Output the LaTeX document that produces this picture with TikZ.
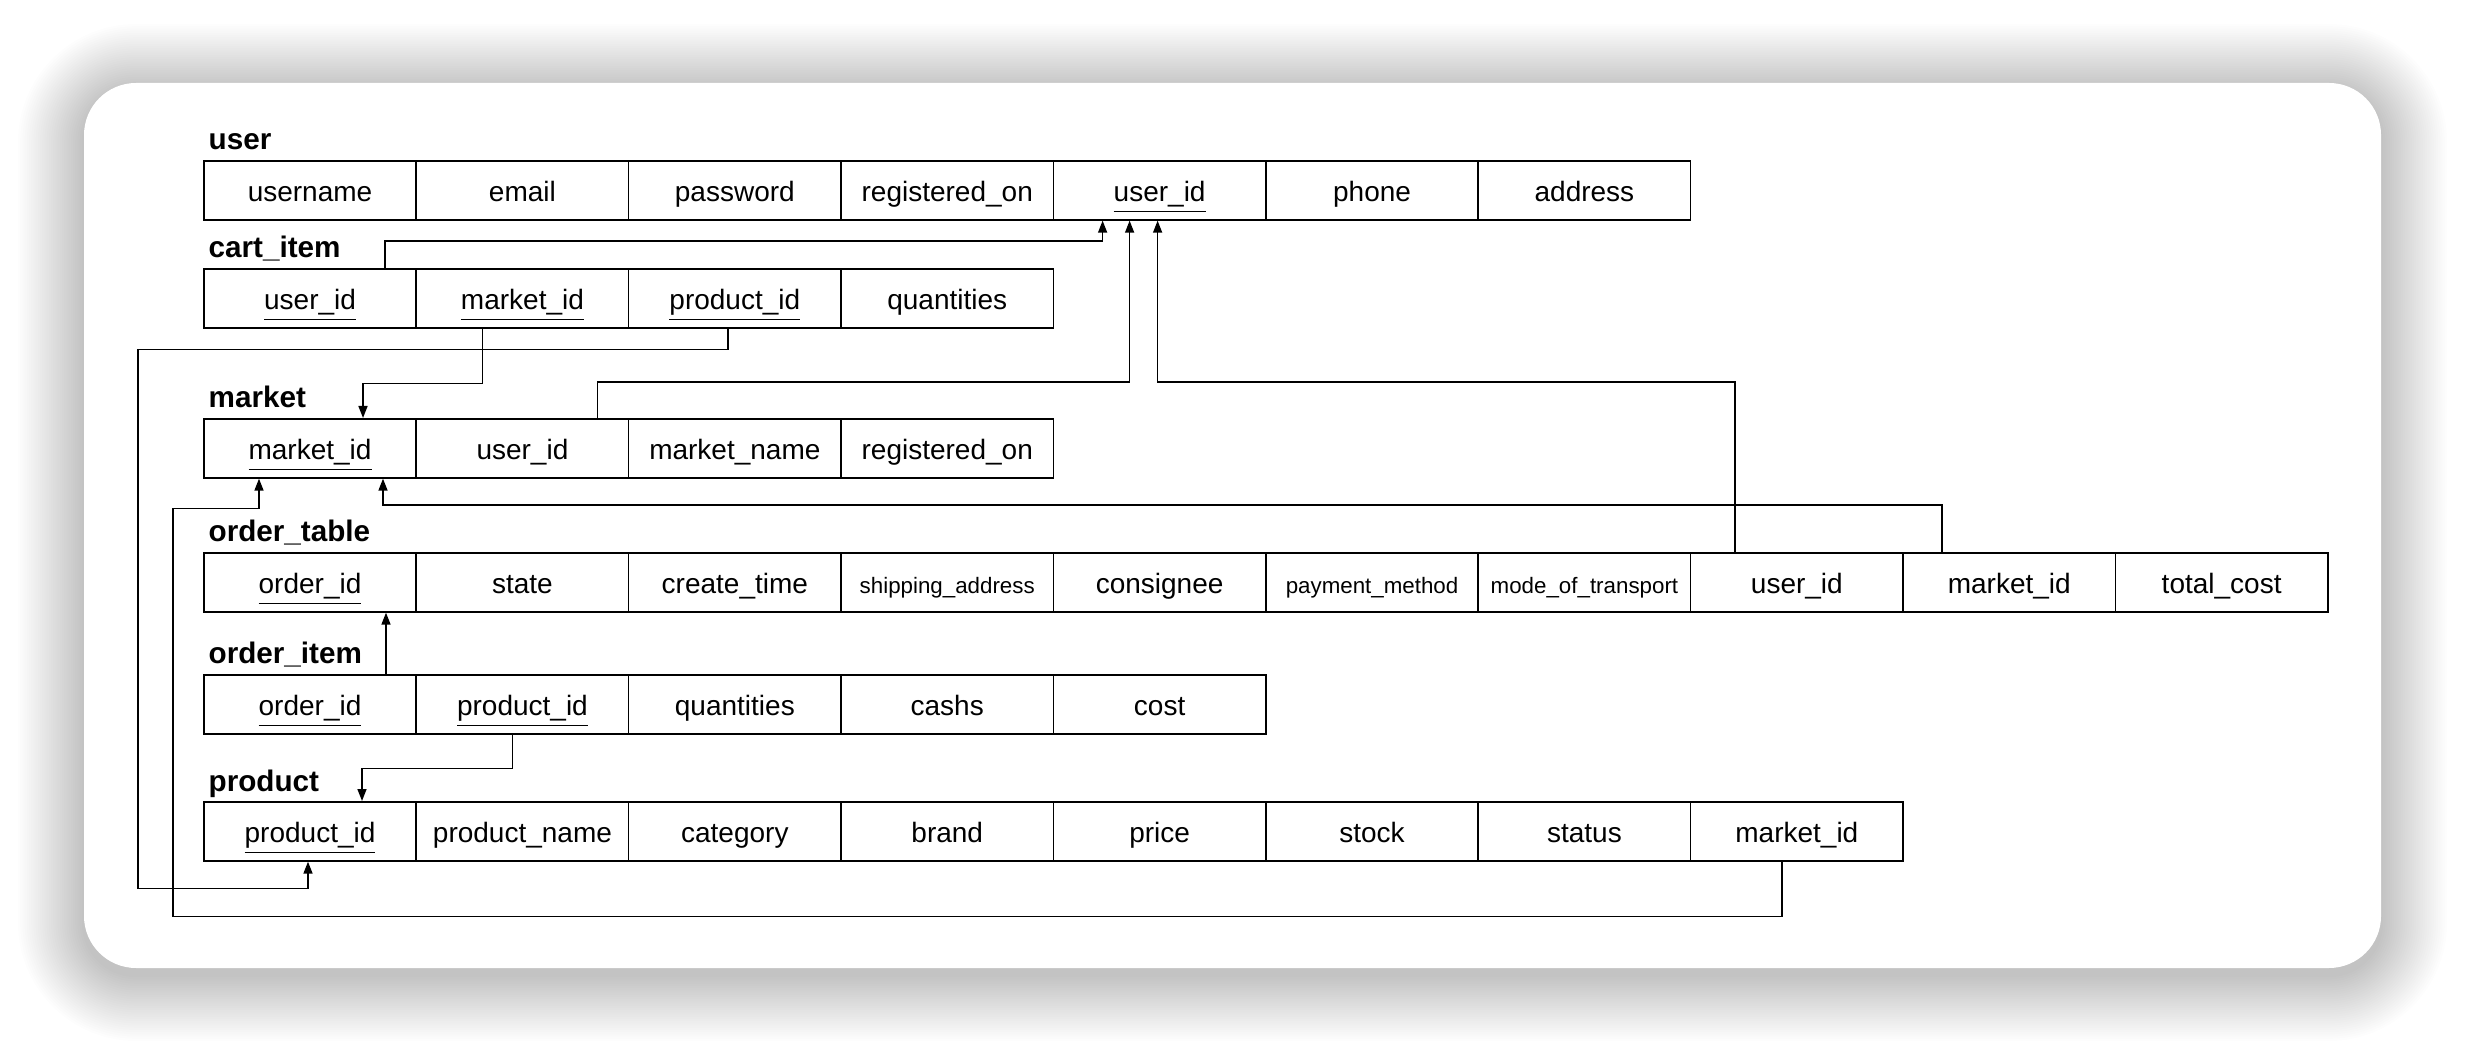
\documentclass[tikz,border=0pt]{standalone}
\usepackage{fontspec}
\setmainfont{Liberation Sans}
\usetikzlibrary{arrows.meta}
\usetikzlibrary{calc}

\newcommand{\smalltxt}[1]{{\fontsize{6.7}{8}\selectfont #1}}

\begin{document}
\begin{tikzpicture}
[x=0.3pt,y=-0.3pt,%
  cell/.style={draw,line width=0.5pt,anchor=north west,inner sep=0pt,
    minimum width=63.72pt,minimum height=17.7pt,text height=6.6pt,text depth=0pt,
    font=\fontsize{8.4}{10}\selectfont},%
  tablename/.style={anchor=base west,inner sep=0pt,font=\bfseries\fontsize{8.9}{10}\selectfont},%
  fk/.style={->,>={Triangle[length=3.6pt,width=2.7pt]},line width=0.45pt}]
\useasboundingbox (0,0) rectangle (2466,1052);
\fill[white] (0,0) rectangle (2466,1052);
%% card with its shadow
\foreach \s in {1,...,30}
{
  \pgfmathsetmacro{\shrad}{15.6+0.66*\s}
  \fill[black,fill opacity=0.0065,rounded corners=\shrad pt]
    ({84-2.2*\s},{90-2.2*\s}) rectangle ({2381+2.2*\s},{975+2.2*\s});
}
\fill[white,rounded corners=15.6pt] (84,83) rectangle (2381,968);
%%
\node[tablename] (userlabel) at (208,150) {user};
\foreach \f [count=\i] in {username,email,password,registered\_on,\underline{user\_id},phone,address}
  \node[cell] (user\i) at ({203+212.4*(\i-1)},160) {\f};
%%
\node[tablename] (cartlabel) at (208,258) {cart\_item};
\foreach \f [count=\i] in {\underline{user\_id},\underline{market\_id},\underline{product\_id},quantities}
  \node[cell] (cart\i) at ({203+212.4*(\i-1)},268) {\f};
%%
\node[tablename] (marketlabel) at (208,408) {market};
\foreach \f [count=\i] in {\underline{market\_id},user\_id,market\_name,registered\_on}
  \node[cell] (market\i) at ({203+212.4*(\i-1)},418) {\f};
%%
\node[tablename] (ordertablelabel) at (208,542) {order\_table};
\foreach \f [count=\i] in {\underline{order\_id},state,create\_time,\smalltxt{shipping\_address},consignee,
    \smalltxt{payment\_method},\smalltxt{mode\_of\_transport},user\_id,market\_id,total\_cost}
  \node[cell] (ordertable\i) at ({203+212.4*(\i-1)},552) {\f};
%%
\node[tablename] (orderitemlabel) at (208,664) {order\_item};
\foreach \f [count=\i] in {\underline{order\_id},\underline{product\_id},quantities,cashs,cost}
  \node[cell] (orderitem\i) at ({203+212.4*(\i-1)},674) {\f};
%%
\node[tablename] (productlabel) at (208,791) {product};
\foreach \f [count=\i] in {\underline{product\_id},product\_name,category,brand,price,stock,status,market\_id}
  \node[cell] (product\i) at ({203+212.4*(\i-1)},801) {\f};
%% foreign keys
\draw[fk] ($(cart1.north west)+(182,0)$) -- ++(0,-27) -| ($(user5.south west)+(50,0)$);
\draw[fk] ($(market2.north west)+(182,0)$) -- ++(0,-36) -| ($(user5.south west)+(77,0)$);
\draw[fk] ($(ordertable8.north west)+(45,0)$) -- ++(0,-170) -| ($(user5.south west)+(105,0)$);
\draw[fk] ($(cart2.south west)+(67,0)$) -- ++(0,55) -| ($(market1.north west)+(160,0)$);
\draw[fk] ($(cart3.south west)+(100,0)$) -- ++(0,21) -- ++(-590,0) -- ++(0,539)
  -| ($(product1.south west)+(105,0)$);
\draw[fk] ($(product8.south west)+(92,0)$) -- ++(0,55) -- ++(-1609,0) -- ++(0,-408)
  -| ($(market1.south west)+(56,0)$);
\draw[fk] ($(ordertable9.north west)+(40,0)$) -- ++(0,-47) -| ($(market1.south west)+(180,0)$);
\draw[fk] ($(orderitem1.north west)+(183,0)$) -- ($(ordertable1.south west)+(183,0)$);
\draw[fk] ($(orderitem2.south west)+(97,0)$) -- ++(0,34) -| ($(product1.north west)+(159,0)$);
\end{tikzpicture}
\end{document}
